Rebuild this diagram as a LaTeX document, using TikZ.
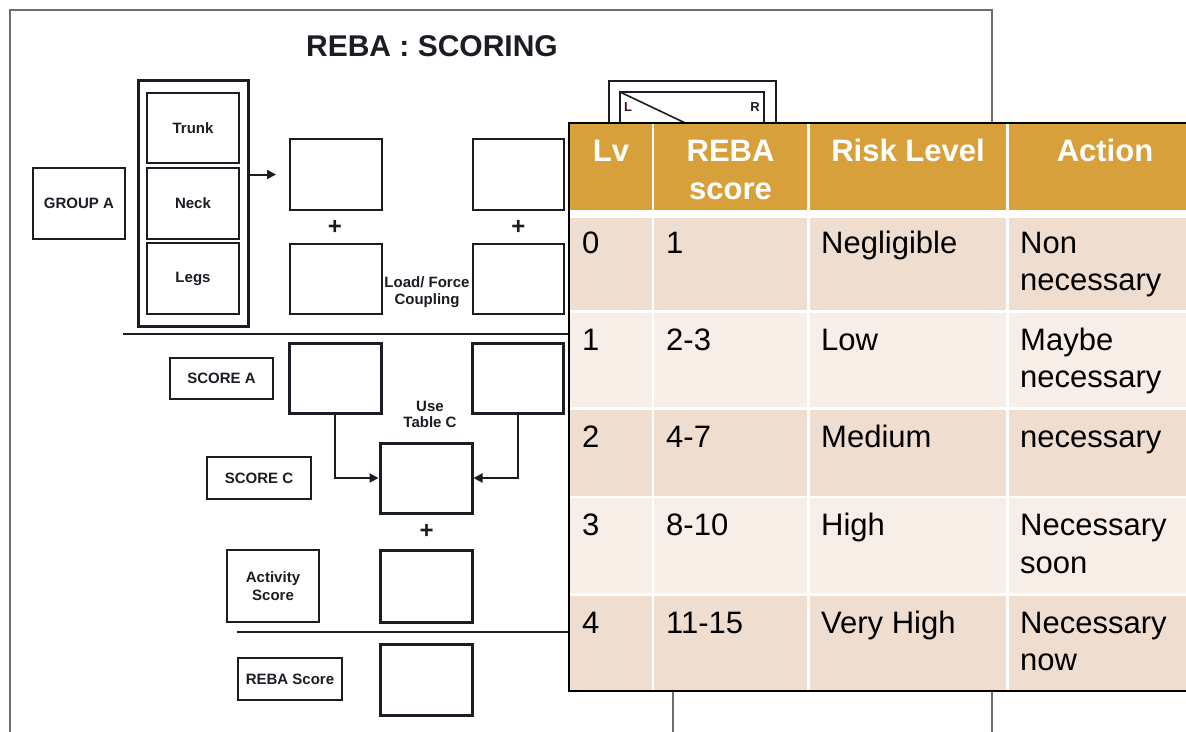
\documentclass[tikz,border=0pt]{standalone}
\usepackage{fontspec}
\setmainfont{Liberation Sans}
\usetikzlibrary{arrows.meta}
\definecolor{gold}{RGB}{216,160,58}
\definecolor{rowA}{RGB}{239,222,208}
\definecolor{rowB}{RGB}{247,238,232}
\definecolor{ink}{RGB}{28,28,36}
\definecolor{framegray}{RGB}{110,110,110}
\begin{document}
\begin{tikzpicture}[x=1pt,y=-1pt,
  lbox/.style={draw=ink, line width=2pt, inner sep=0pt, fill=white, text=ink,
    font=\fontsize{15}{18}\selectfont\bfseries, align=center},
  tbox/.style={lbox, line width=3pt},
  lbl/.style={inner sep=0pt, text=ink, font=\fontsize{15}{18}\selectfont\bfseries, align=center},
  plus/.style={inner sep=0pt, text=ink, font=\fontsize{24}{24}\selectfont\bfseries},
  conn/.style={draw=ink, line width=2pt, -{Triangle[length=9pt,width=9pt]}},
  hdr/.style={inner sep=0pt, text=white, font=\fontsize{31}{37}\selectfont\bfseries, anchor=base},
  cell/.style={inner sep=0pt, text=black, font=\fontsize{31}{37}\selectfont, anchor=base west}]
\useasboundingbox (0,0) rectangle (1186,731);
\clip (0,0) rectangle (1186,731);
\fill[white] (0,0) rectangle (1186,731);

% page frame
\draw[framegray, line width=2pt] (10,745) -- (10,10) -- (992,10) -- (992,745);
\draw[framegray, line width=2pt] (673,660) -- (673,745);

% title
\node[inner sep=0pt, text=ink, font=\fontsize{30}{36}\selectfont\bfseries] (title) at (432,46) {REBA : SCORING};

% group A
\node[lbox, minimum width=92pt, minimum height=71pt] (groupA) at (79,203.5) {GROUP A};
\node[draw=ink, line width=3pt, inner sep=0pt, minimum width=110pt, minimum height=246pt] (cont) at (193,203) {};
\node[lbox, minimum width=92pt, minimum height=70pt] (trunk) at (193,128) {Trunk};
\node[lbox, minimum width=92pt, minimum height=71pt] (neck) at (193,203.5) {Neck};
\node[lbox, minimum width=92pt, minimum height=71pt] (legs) at (193,278.5) {Legs};

\node[lbox, minimum width=92pt, minimum height=71pt] (b1) at (336,174.5) {};
\node[lbox, minimum width=92pt, minimum height=70pt] (b2) at (336,279) {};
\node[lbox, minimum width=91pt, minimum height=71pt] (b3) at (518.5,174.5) {};
\node[lbox, minimum width=91pt, minimum height=70pt] (b4) at (518.5,279) {};
\node[plus] (p1) at (335,227) {+};
\node[plus] (p2) at (518.5,227) {+};
\node[lbl] (load) at (427,292) {Load/ Force\\[-1pt]Coupling};
\draw[conn, shorten >=13pt] (cont.east |- b1.center) -- (b1.west);

% L/R box
\draw[ink, line width=2pt] (609,140) -- (609,81) -- (776,81) -- (776,140);
\draw[ink, line width=2pt] (620,140) -- (620,92) -- (764,92) -- (764,140);
\draw[ink, line width=1.6pt] (620,92) -- (700,130);
\node[inner sep=0pt, text={rgb,255:red,70;green,20;blue,30}, font=\fontsize{13}{13}\selectfont\bfseries] (Lmark) at (628,107) {L};
\node[inner sep=0pt, text=ink, font=\fontsize{13}{13}\selectfont\bfseries] (Rmark) at (755,107) {R};

% separator lines
\coordinate (s1a) at (123,334);
\coordinate (s1b) at (580,334);
\coordinate (s2a) at (237,632);
\coordinate (s2b) at (580,632);
\draw[ink, line width=2pt] (s1a) -- (s1b);
\draw[ink, line width=2pt] (s2a) -- (s2b);

% score section
\node[lbox, minimum width=103pt, minimum height=41pt] (scoreA) at (221.5,378.5) {SCORE A};
\node[tbox, minimum width=92pt, minimum height=70pt] (A1) at (335,378) {};
\node[tbox, minimum width=91pt, minimum height=70pt] (A2) at (517.5,378) {};
\node[lbl] (useC) at (430,414) {Use\\[-2pt]Table C};
\node[tbox, minimum width=92pt, minimum height=70pt] (C) at (426,478) {};
\node[lbox, minimum width=104pt, minimum height=42pt] (scoreC) at (259,478) {SCORE C};
\draw[conn] (A1.south) |- (C.west);
\draw[conn] (A2.south) |- (C.east);
\node[plus] (p3) at (426.7,531.7) {+};
\node[lbox, minimum width=92pt, minimum height=72pt] (activity) at (273,586) {Activity\\[0pt]Score};
\node[tbox, minimum width=92pt, minimum height=72pt] (actbox) at (426,586) {};
\node[lbox, minimum width=104pt, minimum height=42pt] (rebaS) at (290,679) {REBA Score};
\node[tbox, minimum width=92pt, minimum height=71pt] (rebabox) at (426,679.5) {};

% table
\fill[white] (569,123.3) rectangle (1215,691.3);
\foreach \xa/\xb in {570/652.3, 654.3/807, 810/1006, 1009/1215} {
  \fill[gold] (\xa,124) rectangle (\xb,210);
  \fill[rowA] (\xa,217.7) rectangle (\xb,310);
  \fill[rowB] (\xa,313.3) rectangle (\xb,407.3);
  \fill[rowA] (\xa,410) rectangle (\xb,495.7);
  \fill[rowB] (\xa,498.3) rectangle (\xb,593.3);
  \fill[rowA] (\xa,596) rectangle (\xb,690);
}
\draw[black, line width=2pt] (569,123.3) rectangle (1215,691.3);

\node[hdr] (hLv) at (611,161) {Lv};
\node[hdr] (hReba1) at (730.6,161) {REBA};
\node[hdr] (hReba2) at (730.6,199) {score};
\node[hdr] (hRisk) at (908,161) {Risk Level};
\node[hdr] (hAct) at (1105,161) {Action};

% row 0
\node[cell] (r0a) at (582,253) {0};
\node[cell] (r0b) at (666,253) {1};
\node[cell] (r0c) at (821,253) {Negligible};
\node[cell] (r0d1) at (1020,253) {Non};
\node[cell] (r0d2) at (1020,290) {necessary};
% row 1
\node[cell] (r1a) at (582,350) {1};
\node[cell] (r1b) at (666,350) {2-3};
\node[cell] (r1c) at (821,350) {Low};
\node[cell] (r1d1) at (1020,350) {Maybe};
\node[cell] (r1d2) at (1020,387) {necessary};
% row 2
\node[cell] (r2a) at (582,447.5) {2};
\node[cell] (r2b) at (666,447.5) {4-7};
\node[cell] (r2c) at (821,447.5) {Medium};
\node[cell] (r2d) at (1020,447.5) {necessary};
% row 3
\node[cell] (r3a) at (582,535) {3};
\node[cell] (r3b) at (666,535) {8-10};
\node[cell] (r3c) at (821,535) {High};
\node[cell] (r3d1) at (1020,535) {Necessary};
\node[cell] (r3d2) at (1020,573) {soon};
% row 4
\node[cell] (r4a) at (582,633) {4};
\node[cell] (r4b) at (666,633) {11-15};
\node[cell] (r4c) at (821,633) {Very High};
\node[cell] (r4d1) at (1020,633) {Necessary};
\node[cell] (r4d2) at (1020,670) {now};
\end{tikzpicture}
\end{document}
